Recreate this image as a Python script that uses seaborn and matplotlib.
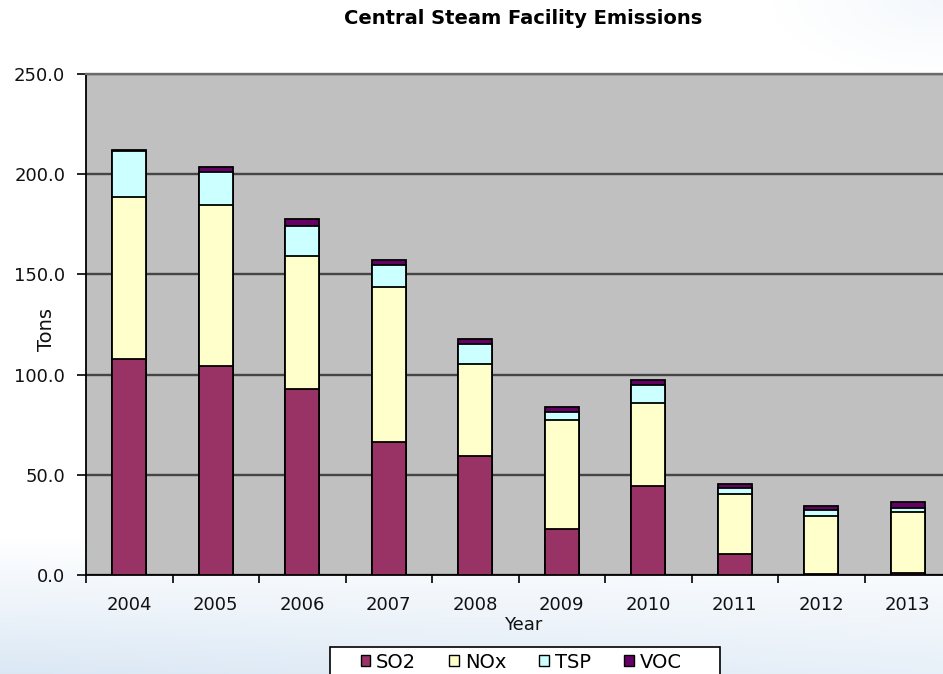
import numpy as np
import pandas as pd
import matplotlib
matplotlib.use("Agg")
import matplotlib.pyplot as plt
from matplotlib.patches import Patch, Rectangle
import seaborn as sns

# Annual emissions by pollutant (tons)
years = ["2004", "2005", "2006", "2007", "2008", "2009", "2010", "2011", "2012", "2013"]
so2 = [107.6, 104.3, 92.8, 66.4, 59.4, 23.0, 44.4, 10.5, 0.5, 1.0]
nox = [81.2, 80.3, 66.5, 77.2, 45.9, 54.3, 41.6, 29.8, 28.9, 30.6]
tsp = [22.8, 16.6, 15.0, 11.1, 10.0, 3.9, 8.8, 3.0, 3.0, 2.0]
voc = [0.5, 2.5, 3.2, 2.5, 2.5, 2.5, 2.5, 2.1, 2.0, 2.7]

series_names = ["SO2", "NOx", "TSP", "VOC"]
series_colors = ["#993366", "#FFFFCC", "#CCFFFF", "#660066"]
y_ticks = [0, 50, 100, 150, 200, 250]

df = pd.DataFrame({"Year": years, "SO2": so2, "NOx": nox, "TSP": tsp, "VOC": voc})

FONT = "DejaVu Sans"
W, H = 943, 674
fig = plt.figure(figsize=(W / 100, H / 100), dpi=100)
fig.patch.set_facecolor("white")

# Soft slide background: white fading to pale blue toward the bottom
bg = fig.add_axes([0, 0, 1, 1], zorder=-10)
yy, xx = np.mgrid[0:1:200j, 0:1:300j]
t = np.clip((yy - 0.80) / 0.20, 0, 1) * (1 - 0.35 * xx)
t = np.maximum(t, np.clip((0.25 - np.hypot((xx - 1.0) * 1.4, yy * 2.2)) / 0.25, 0, 1) * 0.3)
white = np.array([1.0, 1.0, 1.0])
blue = np.array([0.86, 0.91, 0.96])
img = white[None, None, :] * (1 - t[..., None]) + blue[None, None, :] * t[..., None]
bg.imshow(img, aspect="auto", extent=[0, 1, 0, 1], origin="upper")
bg.set_axis_off()

ax = fig.add_axes([86 / W, 1 - 575 / H, 865 / W, 501 / H])
ax.set_facecolor("#C0C0C0")

# Stacked bars: draw cumulative totals from the top layer down
cum = df[series_names].cumsum(axis=1)
for name, color in reversed(list(zip(series_names, series_colors))):
    sns.barplot(x=df["Year"], y=cum[name], order=years, color=color, width=0.39,
                edgecolor="black", linewidth=1.3, saturation=1, ax=ax, zorder=3)

ax.set_xlim(-0.5, len(years) - 0.5)
ax.set_ylim(0, 250)
ax.set_yticks(y_ticks)
ax.set_yticklabels([f"{v:.1f}" for v in y_ticks])
ax.set_xticks(range(len(years)))
ax.set_xticklabels(years)
ax.set_xticks(np.arange(-0.5, len(years), 1.0), minor=True)
ax.tick_params(axis="x", which="major", length=0, pad=15)
ax.tick_params(axis="x", which="minor", length=6, width=1.2, color="black", direction="out")
ax.tick_params(axis="y", length=6.5, width=1.2, color="black", direction="out", pad=8.5)
for lab in ax.get_xticklabels() + ax.get_yticklabels():
    lab.set_fontfamily(FONT)
    lab.set_fontsize(13)
    lab.set_color("#111111")

ax.grid(axis="y", color="#454545", linewidth=1.7, zorder=1)
ax.set_axisbelow(True)
ax.spines["left"].set_color("black")
ax.spines["left"].set_linewidth(1.3)
ax.spines["bottom"].set_color("black")
ax.spines["bottom"].set_linewidth(1.3)
ax.spines["top"].set_color("#6a6a6a")
ax.spines["top"].set_linewidth(1.7)
ax.spines["right"].set_visible(False)

ax.set_xlabel("")
ax.set_ylabel("")
fig.text(523 / W, 1 - 625 / H, "Year", ha="center", va="center",
         fontfamily=FONT, fontsize=13, color="#111111")
fig.text(46 / W, 1 - 330 / H, "Tons", ha="center", va="center", rotation=90,
         fontfamily=FONT, fontsize=14, color="#111111")

fig.text(523 / W, 1 - 19 / H, "Central Steam Facility Emissions", ha="center", va="center",
         fontfamily=FONT, fontweight="bold", fontsize=14)

# Legend box runs off the bottom edge of the figure
fig.add_artist(Rectangle((330 / W, 1 - 684 / H), 390 / W, 37 / H, transform=fig.transFigure,
                         facecolor="white", edgecolor="black", linewidth=1.2, zorder=4))
handles = [Patch(facecolor=c, edgecolor="black", linewidth=1.0, label=n)
           for n, c in zip(series_names, series_colors)]
leg = fig.legend(handles=handles, loc="center", bbox_to_anchor=(521 / W, 1 - 662 / H),
                 ncol=4, frameon=False, handlelength=0.5, handleheight=0.5,
                 handletextpad=0.3, columnspacing=1.7, borderpad=0.0, borderaxespad=0.0,
                 prop={"family": FONT, "size": 14})
leg.set_zorder(5)

fig.savefig("out.png", dpi=100)
